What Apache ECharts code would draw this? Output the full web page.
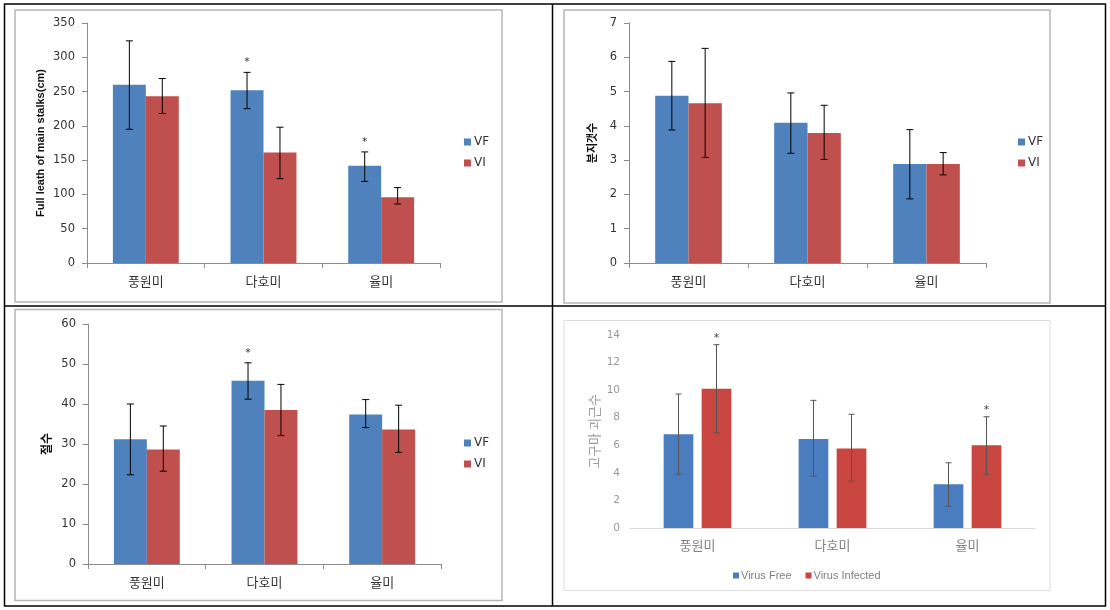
<!DOCTYPE html>
<html>
<head>
<meta charset="utf-8">
<script src="https://cdn.jsdelivr.net/npm/echarts@6/dist/echarts.min.js"></script>
<style>
html,body{margin:0;padding:0;background:#fff;}
#c{width:1110px;height:610px;}
</style>
</head>
<body>
<div id="c"></div>
<script>
// ---------- data ----------
var categories = ['풍원미', '다호미', '율미'];

// Panel 1: full length of main stalks (cm)
var p1Ticks = [0, 350, 50];
var p1VF = [260, 252, 142];
var p1VFLow = [195, 225, 119];
var p1VFHigh = [324, 278, 162];
var p1VFStar = [0, 1, 1];
var p1VI = [243, 161, 96];
var p1VILow = [218, 123, 86];
var p1VIHigh = [269, 198, 110];
var p1VIStar = [0, 0, 0];

// Panel 2: 분지갯수
var p2Ticks = [0, 7, 1];
var p2VF = [4.88, 4.09, 2.89];
var p2VFLow = [3.88, 3.2, 1.87];
var p2VFHigh = [5.88, 4.96, 3.89];
var p2VFStar = [0, 0, 0];
var p2VI = [4.66, 3.79, 2.89];
var p2VILow = [3.08, 3.02, 2.57];
var p2VIHigh = [6.26, 4.6, 3.22];
var p2VIStar = [0, 0, 0];

// Panel 3: 절수
var p3Ticks = [0, 60, 10];
var p3VF = [31.2, 45.8, 37.4];
var p3VFLow = [22.3, 41.2, 34.1];
var p3VFHigh = [40.0, 50.3, 41.1];
var p3VFStar = [0, 1, 0];
var p3VI = [28.6, 38.5, 33.6];
var p3VILow = [23.2, 32.1, 27.9];
var p3VIHigh = [34.5, 44.9, 39.7];
var p3VIStar = [0, 0, 0];

// Panel 4: 고구마 괴근수
var p4Ticks = [0, 14, 2];
var p4VF = [6.8, 6.45, 3.18];
var p4VFLow = [3.9, 3.76, 1.58];
var p4VFHigh = [9.72, 9.26, 4.73];
var p4VFStar = [0, 0, 0];
var p4VI = [10.1, 5.77, 6.0];
var p4VILow = [6.9, 3.4, 3.9];
var p4VIHigh = [13.3, 8.25, 8.07];
var p4VIStar = [1, 0, 1];

var seriesNames123 = ['VF', 'VI'];
var seriesNames4 = ['Virus Free', 'Virus Infected'];
var yNames = ['Full leath of main stalks(cm)', '분지갯수', '절수', '고구마 괴근수'];

// ---------- styling ----------
var BLUE = '#4F81BD', RED = '#C0504D';
var BLUE4 = '#4A7CC0', RED4 = '#C9453F';
var NUMF = "'DejaVu Sans', 'Noto Sans CJK KR', sans-serif";
var KRF = "'Noto Sans CJK KR', 'DejaVu Sans', sans-serif";

function errData(low, high, star) {
  return categories.map(function (c, i) { return [i, low[i], high[i], star[i]]; });
}

function errSeries(gi, low, high, star, off, color, cap, starGap, starColor) {
  return {
    type: 'custom',
    xAxisIndex: gi, yAxisIndex: gi,
    z: 10,
    silent: true,
    data: errData(low, high, star),
    encode: { x: 0, y: [1, 2] },
    renderItem: function (params, api) {
      var i = api.value(0);
      var band = api.size([1, 0])[0];
      var xc = api.coord([i, 0])[0] + off * band;
      var yl = api.coord([i, api.value(1)])[1];
      var yh = api.coord([i, api.value(2)])[1];
      var st = { stroke: color, lineWidth: 1 };
      var ch = [
        { type: 'line', shape: { x1: xc, y1: yl, x2: xc, y2: yh }, style: st },
        { type: 'line', shape: { x1: xc - cap, y1: yh, x2: xc + cap, y2: yh }, style: st },
        { type: 'line', shape: { x1: xc - cap, y1: yl, x2: xc + cap, y2: yl }, style: st }
      ];
      if (api.value(3)) {
        ch.push({ type: 'text', style: { text: '*', x: xc, y: yh - starGap, fill: starColor,
          font: '11px ' + NUMF, textAlign: 'center', textVerticalAlign: 'middle' } });
      }
      return { type: 'group', children: ch };
    }
  };
}

var grids = [
  { left: 87, top: 23, width: 353, height: 240 },
  { left: 629, top: 23, width: 357, height: 240 },
  { left: 88, top: 324, width: 353, height: 240 },
  { left: 630, top: 335, width: 405, height: 193 }
].map(function (g) { g.containLabel = false; g.outerBoundsMode = 'none'; return g; });

var ticks = [p1Ticks, p2Ticks, p3Ticks, p4Ticks];
var nameGaps = [41, 32, 36, 29];
var nameFonts = [
  { fontSize: 11, fontWeight: 'bold', fontFamily: "'Liberation Sans', Arial, sans-serif", color: '#111' },
  { fontSize: 11, fontWeight: 'bold', fontFamily: KRF, color: '#111' },
  { fontSize: 12, fontWeight: 'bold', fontFamily: KRF, color: '#111' },
  { fontSize: 13, fontWeight: 'normal', fontFamily: KRF, color: '#9a9a9a' }
];

var xAxes = [0, 1, 2, 3].map(function (i) {
  var p4 = i === 3;
  return {
    type: 'category', gridIndex: i, data: categories,
    axisLine: { show: true, lineStyle: { color: p4 ? '#d9d9d9' : '#8c8c8c', width: 1 } },
    axisTick: { show: !p4, alignWithLabel: false, length: 5, lineStyle: { color: '#8c8c8c' } },
    axisLabel: { fontFamily: KRF, fontSize: 13, color: p4 ? '#808080' : '#333', margin: p4 ? 11 : 12 },
    splitLine: { show: false }
  };
});

var yAxes = [0, 1, 2, 3].map(function (i) {
  var p4 = i === 3;
  var t = ticks[i];
  return {
    type: 'value', gridIndex: i, min: t[0], max: t[1], interval: t[2],
    name: yNames[i], nameLocation: 'middle', nameRotate: 90, nameGap: nameGaps[i],
    nameTextStyle: nameFonts[i],
    axisLine: { show: !p4, lineStyle: { color: '#8c8c8c', width: 1 } },
    axisTick: { show: !p4, length: 5, lineStyle: { color: '#8c8c8c' } },
    axisLabel: { fontFamily: NUMF, fontSize: p4 ? 10.5 : 11.5, color: p4 ? '#999' : '#333', margin: p4 ? 10 : 12 },
    splitLine: { show: false }
  };
});

function barPair(gi, names, vf, vi, cVF, cVI, w, gap) {
  return [
    { type: 'bar', name: names[0], xAxisIndex: gi, yAxisIndex: gi, data: vf, barWidth: w, barGap: gap,
      itemStyle: { color: cVF }, silent: true, emphasis: { disabled: true } },
    { type: 'bar', name: names[1], xAxisIndex: gi, yAxisIndex: gi, data: vi, barWidth: w, barGap: gap,
      itemStyle: { color: cVI }, silent: true, emphasis: { disabled: true } }
  ];
}

var series = [].concat(
  barPair(0, seriesNames123, p1VF, p1VI, BLUE, RED, '28%', '0%'),
  barPair(1, seriesNames123, p2VF, p2VI, BLUE, RED, '28%', '0%'),
  barPair(2, seriesNames123, p3VF, p3VI, BLUE, RED, '28%', '0%'),
  barPair(3, seriesNames4, p4VF, p4VI, BLUE4, RED4, '22%', '28%'),
  [
    errSeries(0, p1VFLow, p1VFHigh, p1VFStar, -0.14, '#000', 3.5, 10, '#333'),
    errSeries(0, p1VILow, p1VIHigh, p1VIStar, 0.14, '#000', 3.5, 10, '#333'),
    errSeries(1, p2VFLow, p2VFHigh, p2VFStar, -0.14, '#000', 3.5, 10, '#333'),
    errSeries(1, p2VILow, p2VIHigh, p2VIStar, 0.14, '#000', 3.5, 10, '#333'),
    errSeries(2, p3VFLow, p3VFHigh, p3VFStar, -0.14, '#000', 3.5, 10, '#333'),
    errSeries(2, p3VILow, p3VIHigh, p3VIStar, 0.14, '#000', 3.5, 10, '#333'),
    errSeries(3, p4VFLow, p4VFHigh, p4VFStar, -0.1408, '#555', 3, 7, '#444'),
    errSeries(3, p4VILow, p4VIHigh, p4VIStar, 0.1408, '#555', 3, 7, '#444')
  ]
);

function vLegend(left, top) {
  return {
    data: seriesNames123, orient: 'vertical', left: left, top: top,
    itemWidth: 7, itemHeight: 7, itemGap: 9, icon: 'rect', selectedMode: false,
    textStyle: { fontFamily: NUMF, fontSize: 12, color: '#333', padding: [0, 0, 0, -2] }
  };
}

var legends = [
  vLegend(459, 131),
  vLegend(1013, 131),
  vLegend(459, 432),
  {
    data: seriesNames4, orient: 'horizontal', left: 728, top: 565,
    itemWidth: 6, itemHeight: 6, itemGap: 14, icon: 'rect', selectedMode: false,
    textStyle: { fontFamily: "'Liberation Sans', Arial, sans-serif", fontSize: 11, color: '#808080', padding: [0, 0, 0, -3] }
  }
];

var graphics = [
  // chart frames
  { type: 'rect', shape: { x: 15, y: 10, width: 487, height: 292 }, style: { fill: null, stroke: '#b5b5b5', lineWidth: 1.5 }, z: -1 },
  { type: 'rect', shape: { x: 564, y: 10, width: 486, height: 293 }, style: { fill: null, stroke: '#b5b5b5', lineWidth: 1.5 }, z: -1 },
  { type: 'rect', shape: { x: 15, y: 309.5, width: 487, height: 291 }, style: { fill: null, stroke: '#b5b5b5', lineWidth: 1.5 }, z: -1 },
  { type: 'rect', shape: { x: 564, y: 320.5, width: 486, height: 270 }, style: { fill: null, stroke: '#dcdcdc', lineWidth: 1 }, z: -1 },
  // table lines
  { type: 'rect', shape: { x: 4.5, y: 4, width: 1101, height: 602 }, style: { fill: null, stroke: '#000', lineWidth: 1.5 } },
  { type: 'line', shape: { x1: 552.5, y1: 4, x2: 552.5, y2: 606 }, style: { stroke: '#000', lineWidth: 1.5 } },
  { type: 'line', shape: { x1: 4.5, y1: 306, x2: 1105.5, y2: 306 }, style: { stroke: '#000', lineWidth: 1.5 } }
];

var chart = echarts.init(document.getElementById('c'), null, { renderer: 'canvas' });
chart.setOption({
  animation: false,
  backgroundColor: '#fff',
  grid: grids,
  xAxis: xAxes,
  yAxis: yAxes,
  legend: legends,
  series: series,
  graphic: graphics
});
</script>
</body>
</html>
